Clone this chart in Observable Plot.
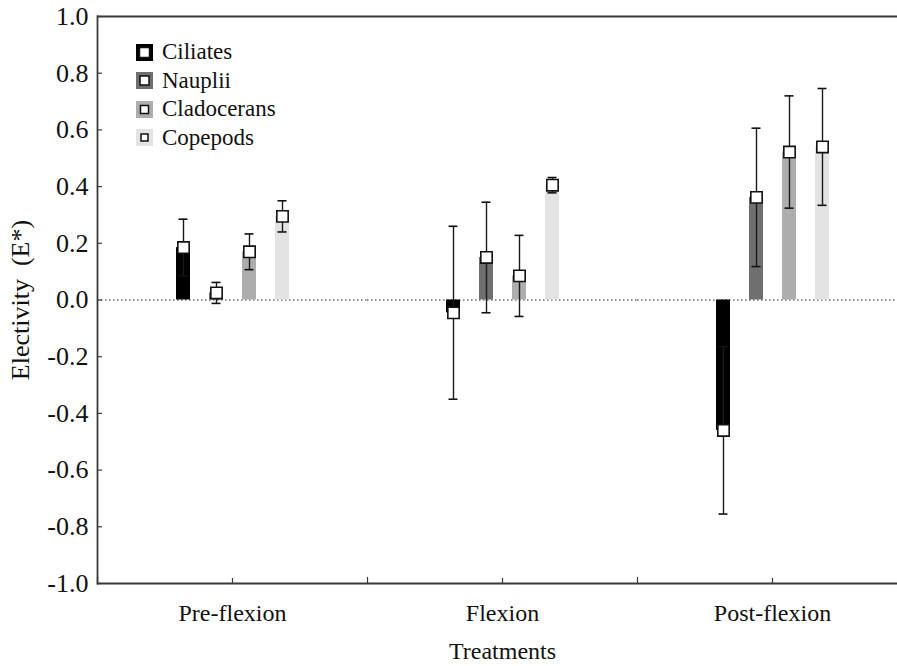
<!DOCTYPE html>
<html><head><meta charset="utf-8">
<script src="https://cdn.jsdelivr.net/npm/d3@7"></script>
<script src="https://cdn.jsdelivr.net/npm/@observablehq/plot@0.6"></script>
<style>
html,body{margin:0;padding:0;background:#fff;overflow:hidden;}
#wrap{position:relative;width:897px;height:666px;overflow:hidden;}
#chart svg{max-width:none !important;}
#legend{position:absolute;left:136px;top:38px;font-family:'Liberation Serif','Times New Roman',serif;font-size:23px;color:#111;}
#legend .row{display:flex;align-items:center;height:28.5px;}
#legend svg{margin-right:9px;}
#chart svg text{font-family:'Liberation Serif','Times New Roman',serif;}
</style></head><body><div id="wrap"><div id="chart"></div><div id="legend"></div></div>
<script>
const treatments = ["Pre-flexion", "Flexion", "Post-flexion"];
const preys = ["Ciliates", "Nauplii", "Cladocerans", "Copepods"];
const colors = ["#000000", "#6f6f6f", "#adadad", "#e3e3e3"];
const meanPre = [0.185, 0.025, 0.17, 0.295];
const errPre = [0.10, 0.037, 0.063, 0.055];
const meanFlex = [-0.045, 0.15, 0.085, 0.405];
const errFlex = [0.305, 0.195, 0.143, 0.027];
const meanPost = [-0.46, 0.362, 0.522, 0.54];
const errPost = [0.295, 0.244, 0.198, 0.206];
const yTicks = [-1, -0.8, -0.6, -0.4, -0.2, 0, 0.2, 0.4, 0.6, 0.8, 1];
const legendMarker = [10, 9, 8, 7];

const means = [meanPre, meanFlex, meanPost];
const errs = [errPre, errFlex, errPost];
const rows = [];
treatments.forEach((t, i) => preys.forEach((p, j) => rows.push({treatment: t, prey: p, mean: means[i][j], err: errs[i][j]})));

const W = 907, H = 666, mL = 97, mR = 0, mT = 16, mB = 83;
const plotH = H - mT - mB;
const ink = "#3a3a3a";
const serif = "'Liberation Serif','Times New Roman',serif";

const chart = Plot.plot({
  width: W, height: H, marginLeft: mL, marginRight: mR, marginTop: mT, marginBottom: mB,
  style: {fontFamily: serif, background: "white", color: "#111", overflow: "visible", maxWidth: "none"},
  fx: {domain: treatments, padding: 0},
  x: {domain: preys, paddingInner: 0.585, paddingOuter: 2.3, axis: null},
  y: {domain: [-1, 1]},
  color: {domain: preys, range: colors},
  marks: [
    Plot.ruleY([0], {stroke: "#222", strokeWidth: 1.2, strokeDasharray: "1.5,2.5"}),
    Plot.barY(rows, {fx: "treatment", x: "prey", y: "mean", fill: "prey"}),
    Plot.ruleX(rows, {fx: "treatment", x: "prey", y1: d => d.mean - d.err, y2: d => d.mean + d.err, stroke: "#1a1a1a", strokeWidth: 1.4}),
    Plot.tickY(rows, {fx: "treatment", x: "prey", y: d => d.mean + d.err, stroke: "#111", strokeWidth: 1.6, insetLeft: 2.5, insetRight: 2.5}),
    Plot.tickY(rows, {fx: "treatment", x: "prey", y: d => d.mean - d.err, stroke: "#111", strokeWidth: 1.6, insetLeft: 2.5, insetRight: 2.5}),
    Plot.dot(rows, {fx: "treatment", x: "prey", y: "mean", symbol: "square", r: 6.4, fill: "white", stroke: "#111", strokeWidth: 1.6}),
    Plot.ruleY([1], {stroke: ink, strokeWidth: 1.8}),
    Plot.ruleY([-1], {stroke: ink, strokeWidth: 1.8}),
    Plot.frame({anchor: "left", facetAnchor: "left", stroke: ink, strokeWidth: 1.8}),
    Plot.frame({anchor: "left", insetTop: plotH - 6, stroke: ink, strokeWidth: 1.2}),
    Plot.axisY({ticks: yTicks, tickSize: -5, text: null, stroke: ink, strokeWidth: 1.2, label: null}),
    Plot.axisY({ticks: yTicks, tickSize: 0, tickPadding: 9, tickFormat: d => d.toFixed(1), fontSize: 22,
      label: "Electivity\u00a0\u00a0(E*)", labelAnchor: "center", labelArrow: "none", labelOffset: 87}),
    Plot.axisFx({anchor: "bottom", tickSize: -5, text: null, stroke: ink, strokeWidth: 1.2, label: null}),
    Plot.axisFx({anchor: "bottom", tickSize: 0, tickPadding: 20, fontSize: 24,
      label: "Treatments", labelAnchor: "center", labelArrow: "none", labelOffset: 75})
  ]
});
chart.querySelectorAll("text").forEach(t => {
  const g = t.closest("[aria-label$='label']");
  if (g) t.setAttribute("font-size", g.getAttribute("aria-label").startsWith("y") ? "26" : "24");
});
chart.style.maxWidth = "none";
document.getElementById("chart").appendChild(chart);

const legend = document.getElementById("legend");
preys.forEach((p, i) => {
  const row = document.createElement("div");
  row.className = "row";
  const s = legendMarker[i];
  row.innerHTML = `<svg width="17" height="17"><rect width="17" height="17" fill="${colors[i]}"/><rect x="${(17 - s) / 2}" y="${(17 - s) / 2}" width="${s}" height="${s}" fill="white" stroke="#111" stroke-width="1.5"/></svg><span>${p}</span>`;
  legend.appendChild(row);
});
</script></body></html>
